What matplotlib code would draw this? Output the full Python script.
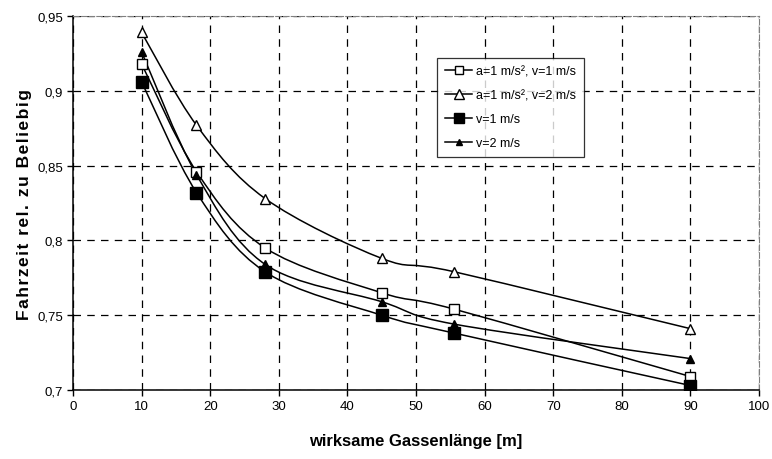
import numpy as np
import matplotlib.pyplot as plt
from matplotlib.path import Path
from matplotlib.patches import PathPatch
from matplotlib.lines import Line2D

plt.rcParams['font.family'] = ['Liberation Sans', 'DejaVu Sans']

laenge = [10, 18, 28, 45, 55.6, 90]
a1_v1 = [0.918, 0.846, 0.795, 0.765, 0.754, 0.709]
a1_v2 = [0.939, 0.877, 0.828, 0.788, 0.779, 0.741]
v1 = [0.906, 0.832, 0.779, 0.750, 0.738, 0.703]
v2 = [0.926, 0.844, 0.784, 0.759, 0.744, 0.721]

labels = ['a=1 m/s², v=1 m/s', 'a=1 m/s², v=2 m/s', 'v=1 m/s', 'v=2 m/s']


def smooth_path(x, y):
    # Bezier-Glaettung wie in Excel (Catmull-Rom, Faktor 1/6)
    p = np.column_stack([x, y])
    n = len(p)
    verts = [p[0]]
    codes = [Path.MOVETO]
    for i in range(n - 1):
        p0 = p[i - 1] if i > 0 else p[i]
        p1 = p[i]
        p2 = p[i + 1]
        p3 = p[i + 2] if i + 2 < n else p[i + 1]
        c1 = p1 + (p2 - p0) / 6
        c2 = p2 - (p3 - p1) / 6
        verts += [c1, c2, p2]
        codes += [Path.CURVE4] * 3
    return Path(verts, codes)


fig = plt.figure(figsize=(7.72, 4.6), dpi=100)
ax = fig.add_axes([73 / 772, 69 / 460, 686 / 772, 374 / 460])

styles = [
    dict(marker='s', ms=6.5, mfc='white', mec='black', mew=1),
    dict(marker='^', ms=7.5, mfc='white', mec='black', mew=1),
    dict(marker='s', ms=8.5, mfc='black', mec='black', mew=1),
    dict(marker='^', ms=6, mfc='black', mec='black', mew=1),
]
leg_ms = [5.5, 6.5, 7, 5]
handles = []
for ys, st, lab, lms in zip([a1_v1, a1_v2, v1, v2], styles, labels, leg_ms):
    ax.add_patch(PathPatch(smooth_path(laenge, ys), fill=False, lw=1.1,
                           ec='black', zorder=2))
    ax.plot(laenge, ys, ls='none', zorder=3, **st)
    hst = dict(st, ms=lms)
    handles.append(Line2D([], [], color='black', lw=1.1, **hst))

ax.set_xlim(0, 100)
ax.set_ylim(0.7, 0.95)
ax.set_xticks(range(0, 101, 10))
ax.set_yticks([0.7, 0.75, 0.8, 0.85, 0.9, 0.95])
ax.set_yticklabels(['0,7', '0,75', '0,8', '0,85', '0,9', '0,95'])
ax.tick_params(direction='out', length=4, width=1, labelsize=9.5, pad=3)
ax.grid(True, color='black', ls=(0, (6, 5)), lw=0.9)

for s in ['top', 'right']:
    ax.spines[s].set_color('#808080')
    ax.spines[s].set_linestyle((0, (5, 2)))
for s in ['left', 'bottom']:
    ax.spines[s].set_color('black')
    ax.spines[s].set_linewidth(1.1)

ax.set_xlabel('wirksame Gassenlänge [m]', fontsize=12, fontweight='bold', labelpad=15)
# etwas Zeichenabstand wie im Original
ax.set_ylabel('\u200a'.join('Fahrzeit rel. zu Beliebig'), fontsize=12.5,
              fontweight='bold', labelpad=4)

leg = ax.legend(handles, labels, loc='upper left', bbox_to_anchor=(0.531, 0.888),
                borderaxespad=0, fontsize=9, frameon=True, fancybox=False,
                edgecolor='black', handlelength=2.2, handletextpad=0.3,
                labelspacing=0.95, borderpad=0.6)
leg.get_frame().set_linewidth(0.9)

fig.savefig('out.png', dpi=100)
